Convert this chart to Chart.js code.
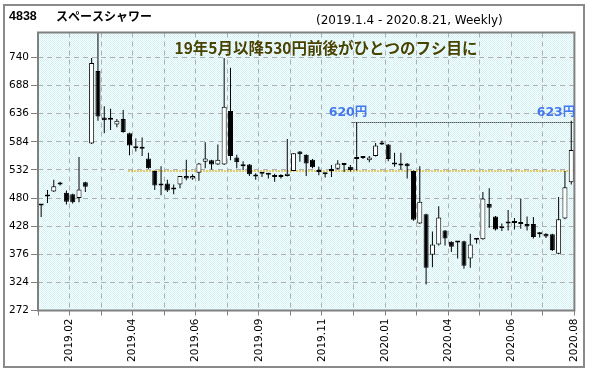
<!DOCTYPE html>
<html>
<head>
<meta charset="utf-8">
<title>4838 スペースシャワー</title>
<script src="https://cdn.jsdelivr.net/npm/chart.js@4.4.1/dist/chart.umd.min.js"></script>
<style>
  body { margin: 0; background: #fff; }
  #wrap { width: 590px; height: 371px; }
</style>
</head>
<body>
<div id="wrap"><canvas id="priceChart" width="590" height="371"></canvas></div>
<script>
// weekly candles, 2019.1.4 - 2020.8.21 (85 weeks)
var opens  = [467, 483, 492, 508, 490, 487, 480, 509, 581, 715,
              629, 626, 616, 626, 600, 574, 573, 553, 530, 503,
              507, 496, 505, 521, 516, 527, 547, 550, 542, 542,
              641, 555, 540, 542, 521, 525, 524, 520, 519, 521,
              530, 566, 560, 551, 528, 527, 530, 534, 544, 538,
              552, 554, 550, 558, 581, 579, 543, 541, 544, 530,
              433, 450, 375, 394, 420, 399, 399, 400, 368, 403,
              404, 469, 446, 424, 434, 435, 433, 432, 432, 414,
              414, 413, 377, 442, 509];
var highs  = [468, 495, 514, 510, 494, 488, 556, 510, 739, 790,
              650, 645, 626, 643, 601, 590, 592, 564, 531, 539,
              514, 505, 521, 551, 524, 545, 583, 551, 579, 739,
              721, 560, 548, 543, 526, 528, 527, 525, 524, 589,
              563, 567, 561, 552, 538, 527, 541, 550, 545, 541,
              620, 558, 558, 582, 586, 580, 564, 564, 545, 531,
              539, 451, 418, 465, 421, 400, 400, 401, 414, 405,
              491, 498, 447, 433, 458, 443, 479, 446, 445, 417,
              415, 414, 482, 530, 623];
var lows   = [445, 471, 491, 503, 468, 470, 472, 491, 580, 623,
              600, 606, 611, 601, 559, 566, 558, 534, 495, 485,
              491, 487, 498, 513, 514, 512, 535, 533, 541, 541,
              550, 535, 532, 521, 514, 519, 516, 510, 516, 520,
              530, 547, 521, 535, 522, 518, 519, 533, 528, 529,
              531, 552, 546, 557, 578, 548, 538, 533, 516, 438,
              432, 320, 352, 392, 392, 380, 368, 349, 351, 396,
              403, 425, 420, 419, 420, 422, 423, 420, 405, 407,
              406, 382, 376, 441, 505];
var closes = [466, 485, 502, 505, 473, 472, 496, 501, 730, 631,
              624, 625, 623, 602, 577, 572, 571, 535, 503, 507,
              494, 497, 521, 516, 521, 544, 553, 542, 551, 649,
              558, 546, 539, 524, 520, 526, 523, 519, 520, 525,
              563, 561, 544, 537, 529, 524, 531, 544, 541, 532,
              553, 556, 555, 577, 579, 552, 542, 540, 539, 440,
              473, 351, 394, 444, 405, 390, 398, 355, 394, 404,
              479, 462, 422, 428, 433, 434, 432, 428, 408, 413,
              409, 384, 441, 500, 569];

var tickLabels = ['2019.02', '2019.04', '2019.06', '2019.09', '2019.11',
                  '2020.01', '2020.04', '2020.06', '2020.08'];
var yTicks = [272, 324, 376, 428, 480, 532, 584, 636, 688, 740];

var supportLevel = 530;   // 530円 line
var supportFrom = 13.8;   // week where the line starts
var highLevel = 620.5;    // 620円 / 623円 line
var highFrom = 49.2;

// light cyan dotted background
var dots = document.createElement('canvas');
dots.width = 2; dots.height = 2;
var dctx = dots.getContext('2d');
dctx.fillStyle = '#ffffff';
dctx.fillRect(0, 0, 2, 2);
dctx.fillStyle = '#cdf3f6';
dctx.fillRect(0, 0, 1, 1);
dctx.fillRect(1, 1, 1, 1);

var bodyData = opens.map(function(o, i) {
    return { x: i, y: [Math.min(o, closes[i]), Math.max(o, closes[i])] };
});
var wickData = lows.map(function(l, i) {
    return { x: i, y: [l, highs[i]] };
});
var bodyColors = opens.map(function(o, i) {
    return closes[i] > o ? '#ffffff' : '#000000';
});

var xTickValues = [];
for (var k = 0; k <= 17; k++) xTickValues.push(-0.5 + k * 85 / 17);

var decor = {
    id: 'decor',
    beforeDraw: function(chart) {
        var ctx = chart.ctx, a = chart.chartArea;
        ctx.save();
        ctx.fillStyle = '#ffffff';
        ctx.fillRect(0, 0, chart.width, chart.height);
        ctx.fillStyle = ctx.createPattern(dots, 'repeat');
        ctx.fillRect(a.left, a.top, a.right - a.left, a.bottom - a.top);
        ctx.strokeStyle = '#8a8a8a';
        ctx.lineWidth = 2;
        ctx.strokeRect(4, 5, 580, 362);
        ctx.restore();
    },
    beforeDatasetsDraw: function(chart) {
        var ctx = chart.ctx, a = chart.chartArea;
        var xs = chart.scales.x, ys = chart.scales.y;
        ctx.save();
        // 530 support line
        var y1 = ys.getPixelForValue(supportLevel);
        ctx.strokeStyle = '#e0a800';
        ctx.lineWidth = 1.5;
        ctx.setLineDash([1.5, 1.5]);
        ctx.beginPath();
        ctx.moveTo(xs.getPixelForValue(supportFrom), y1);
        ctx.lineTo(a.right, y1);
        ctx.stroke();
        // 620 high line
        var y2 = ys.getPixelForValue(highLevel);
        ctx.strokeStyle = '#000000';
        ctx.lineWidth = 1;
        ctx.setLineDash([1, 1]);
        ctx.beginPath();
        ctx.moveTo(xs.getPixelForValue(highFrom), Math.round(y2) + 0.5);
        ctx.lineTo(a.right, Math.round(y2) + 0.5);
        ctx.stroke();
        ctx.restore();
    },
    afterDraw: function(chart) {
        var ctx = chart.ctx, a = chart.chartArea;
        ctx.save();
        ctx.strokeStyle = '#808080';
        ctx.lineWidth = 2;
        ctx.strokeRect(a.left, a.top, a.right - a.left, a.bottom - a.top);

        ctx.fillStyle = '#000000';
        ctx.textBaseline = 'alphabetic';
        ctx.textAlign = 'left';
        ctx.font = 'bold 12.5px "Liberation Sans"';
        ctx.fillText('4838', 9, 19.5);
        ctx.textBaseline = 'middle';
        ctx.font = 'bold 12px "Noto Sans CJK JP"';
        ctx.fillText('スペースシャワー', 56, 16);
        ctx.font = '12px "DejaVu Sans"';
        ctx.fillText('(2019.1.4 - 2020.8.21, Weekly)', 316, 21);

        ctx.textAlign = 'center';
        ctx.fillStyle = '#4a4200';
        ctx.font = 'bold 15.5px "Noto Sans CJK JP"';
        ctx.fillText('19年5月以降530円前後がひとつのフシ目に', 326, 48.5);

        ctx.fillStyle = '#4478ee';
        ctx.font = 'bold 12.5px "DejaVu Sans", "Noto Sans CJK JP"';
        ctx.fillText('620円', 348, 112.5);
        ctx.fillText('623円', 556, 112.5);
        ctx.restore();
    }
};

window.onload = function() {
    var ctx = document.getElementById('priceChart').getContext('2d');
    var chart = new Chart(ctx, {
        type: 'bar',
        data: {
            datasets: [{
                label: 'body',
                data: bodyData,
                backgroundColor: bodyColors,
                borderColor: '#000000',
                borderWidth: 1,
                borderSkipped: false,
                grouped: false,
                barPercentage: 1,
                maxBarThickness: 5.5,
                minBarLength: 2
            }, {
                label: 'wick',
                data: wickData,
                backgroundColor: '#000000',
                borderWidth: 0,
                grouped: false,
                barPercentage: 1,
                maxBarThickness: 1
            }]
        },
        options: {
            responsive: false,
            animation: false,
            devicePixelRatio: 1,
            layout: { padding: { top: 32.5, right: 12, left: 0, bottom: 0 } },
            plugins: {
                legend: { display: false },
                tooltip: { enabled: false }
            },
            scales: {
                x: {
                    type: 'linear',
                    min: -0.5,
                    max: 84.5,
                    offset: false,
                    afterBuildTicks: function(scale) {
                        scale.ticks = xTickValues.map(function(v) { return { value: v }; });
                    },
                    afterFit: function(scale) { scale.height = 60.5; },
                    border: { display: false, dash: [5, 4] },
                    grid: {
                        offset: false,
                        color: '#b0b0b0',
                        lineWidth: 1,
                        tickLength: 5,
                        tickColor: '#808080',
                        tickBorderDash: []
                    },
                    ticks: {
                        autoSkip: false,
                        minRotation: 90,
                        maxRotation: 90,
                        padding: 3,
                        color: '#000000',
                        font: { family: 'DejaVu Sans', size: 10.5 },
                        callback: function(value, index) {
                            return index % 2 === 1 ? tickLabels[(index - 1) / 2] : '';
                        }
                    }
                },
                y: {
                    type: 'linear',
                    min: 272,
                    max: 786.2,
                    afterBuildTicks: function(scale) {
                        scale.ticks = yTicks.map(function(v) { return { value: v }; });
                    },
                    afterFit: function(scale) { scale.width = 38; },
                    border: { display: false, dash: [5, 4] },
                    grid: {
                        color: '#b0b0b0',
                        lineWidth: 1,
                        tickLength: 7,
                        tickColor: '#808080',
                        tickBorderDash: []
                    },
                    ticks: {
                        padding: 2,
                        color: '#000000',
                        font: { family: 'DejaVu Sans', size: 10.5 }
                    }
                }
            }
        },
        plugins: [decor]
    });
};
</script>
</body>
</html>
